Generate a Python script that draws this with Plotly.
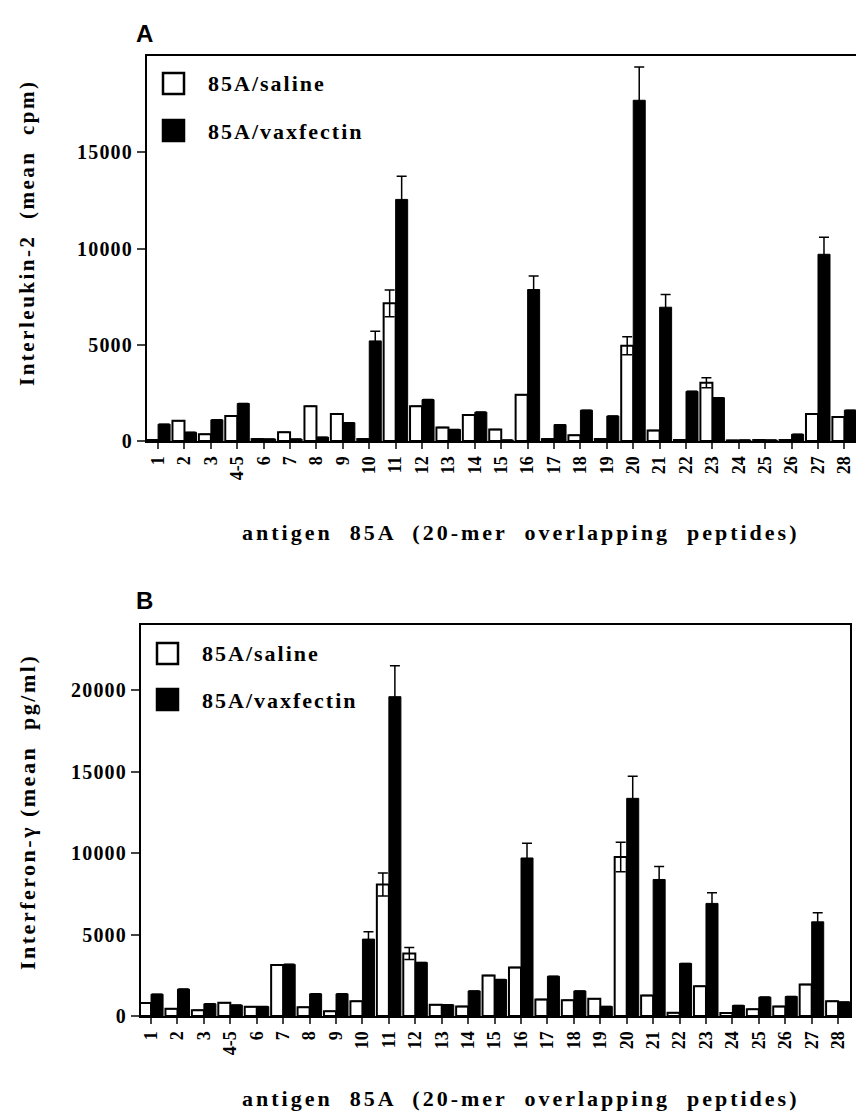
import plotly.graph_objects as go

# ---------------- data ----------------
peptides = ["1", "2", "3", "4-5", "6", "7", "8", "9", "10", "11", "12", "13", "14",
            "15", "16", "17", "18", "19", "20", "21", "22", "23", "24", "25", "26",
            "27", "28"]

il2_saline = [50, 1050, 350, 1300, 100, 450, 1800, 1400, 100, 7150, 1800, 700, 1350,
              600, 2400, 100, 300, 100, 4950, 550, 50, 3030, 30, 50, 50, 1400, 1250]
il2_saline_err = [0, 0, 0, 0, 0, 0, 0, 0, 0, 700, 0, 0, 0,
                  0, 0, 0, 0, 0, 470, 0, 0, 260, 0, 0, 0, 0, 0]
il2_vax = [875, 450, 1100, 1950, 100, 100, 200, 950, 5200, 12550, 2150, 600, 1500,
           50, 7870, 850, 1600, 1300, 17700, 6950, 2580, 2250, 50, 50, 350, 9700, 1600]
il2_vax_err = [0, 0, 0, 0, 0, 0, 0, 0, 500, 1200, 0, 0, 0,
               0, 700, 0, 0, 0, 1730, 660, 0, 0, 0, 0, 0, 890, 0]

ifn_saline = [800, 450, 350, 810, 570, 3130, 530, 290, 900, 8070, 3840, 690, 580,
              2480, 2970, 1020, 960, 1060, 9760, 1260, 200, 1830, 180, 410, 590, 1930, 900]
ifn_saline_err = [0, 0, 0, 0, 0, 0, 0, 0, 0, 700, 370, 0, 0,
                  0, 0, 0, 0, 0, 900, 0, 0, 0, 0, 0, 0, 0, 0]
ifn_vax = [1340, 1650, 750, 670, 580, 3170, 1360, 1360, 4720, 19600, 3290, 690, 1540,
           2240, 9700, 2440, 1540, 590, 13360, 8380, 3230, 6910, 650, 1160, 1200, 5780, 860]
ifn_vax_err = [0, 0, 0, 0, 0, 0, 0, 0, 450, 1900, 0, 0, 0,
               0, 900, 0, 0, 0, 1360, 800, 0, 650, 0, 0, 0, 560, 0]

y_ticks_a = [0, 5000, 10000, 15000]
y_ticks_b = [0, 5000, 10000, 15000, 20000]

# ---------------- figure ----------------
W, H = 856, 1112
SERIF = "Liberation Serif"
SANS = "Liberation Sans"
xs = list(range(len(peptides)))


def px(x):
    return x / W


def py(y):
    return 1 - y / H


def spaced(t, ls):
    return f"<span style='letter-spacing:{ls}px'>{t}</span>"


fig = go.Figure()

err_style = dict(type="data", symmetric=True, color="black", thickness=1.5, width=5)

for sal, sal_e, vax, vax_e, xa, ya in [
    (il2_saline, il2_saline_err, il2_vax, il2_vax_err, "x", "y"),
    (ifn_saline, ifn_saline_err, ifn_vax, ifn_vax_err, "x2", "y2"),
]:
    fig.add_trace(go.Bar(x=xs, y=sal, xaxis=xa, yaxis=ya, name="85A/saline",
                         marker=dict(color="white", line=dict(color="black", width=2)),
                         error_y=dict(array=sal_e, **err_style), showlegend=False))
    fig.add_trace(go.Bar(x=xs, y=vax, xaxis=xa, yaxis=ya, name="85A/vaxfectin",
                         marker=dict(color="black", line=dict(color="black", width=1)),
                         error_y=dict(array=vax_e, **err_style), showlegend=False))

tickfont = dict(family=SERIF, size=20, color="black", weight="bold")
xtickfont = dict(family=SERIF, size=18, color="black", weight="bold")

common_x = dict(tickmode="array", tickvals=xs, ticktext=peptides, tickangle=-90,
                tickfont=xtickfont, ticks="outside", ticklen=6, tickwidth=1.5,
                showline=True, linewidth=2, linecolor="black", mirror=True,
                showgrid=False, zeroline=False, automargin=False)
common_y = dict(tickmode="array", tickfont=tickfont, ticks="outside", ticklen=8,
                tickwidth=2, showline=True, linewidth=2, linecolor="black", mirror=True,
                showgrid=False, zeroline=False, automargin=False)

fig.update_layout(
    width=W, height=H,
    margin=dict(l=0, r=0, t=0, b=0),
    paper_bgcolor="white", plot_bgcolor="white",
    barmode="group", bargap=0.09, bargroupgap=0,
    xaxis=dict(domain=[px(147), 1.0], range=[-0.42, 26.44], anchor="y", **common_x),
    yaxis=dict(domain=[py(441), py(56)], range=[0, 20000], anchor="x",
               tickvals=y_ticks_a, ticktext=[spaced(str(v), 1.2) for v in y_ticks_a],
               **common_y),
    xaxis2=dict(domain=[px(141), px(850)], range=[-0.38, 26.45], anchor="y2", **common_x),
    yaxis2=dict(domain=[py(1016), py(625)], range=[0, 24000], anchor="x2",
                tickvals=y_ticks_b, ticktext=[spaced(str(v), 1.2) for v in y_ticks_b],
                **common_y),
)

xtitle = "antigen  85A  (20-mer  overlapping  peptides)"
bold_serif = lambda s: dict(family=SERIF, size=s, color="black", weight="bold")

annotations = [
    dict(text="<b>A</b>", x=px(134), y=py(33), xanchor="left", yanchor="middle",
         font=dict(family=SANS, size=24, color="black")),
    dict(text="<b>B</b>", x=px(134), y=py(600), xanchor="left", yanchor="middle",
         font=dict(family=SANS, size=24, color="black")),
    dict(text=spaced("Interleukin-2  (mean  cpm)", 2.5), x=px(27), y=py(233),
         textangle=-90, xanchor="center", yanchor="middle", font=bold_serif(21)),
    dict(text=spaced("Interferon-γ (mean  pg/ml)", 2.5), x=px(27), y=py(812),
         textangle=-90, xanchor="center", yanchor="middle", font=bold_serif(22)),
    dict(text=spaced(xtitle, 3), x=px(520), y=py(532),
         xanchor="center", yanchor="middle", font=bold_serif(22)),
    dict(text=spaced(xtitle, 3), x=px(520), y=py(1098),
         xanchor="center", yanchor="middle", font=bold_serif(22)),
]

shapes = []
legend_items = [
    # (square x, square y, text x, text y, label, fill)
    (163, 73, 206, 84, "85A/saline", "white"),
    (163, 120, 206, 131, "85A/vaxfectin", "black"),
    (157, 643, 200, 653, "85A/saline", "white"),
    (157, 689, 200, 700, "85A/vaxfectin", "black"),
]
for (x0, y0, tx, ty, name, fill) in legend_items:
    shapes.append(dict(type="rect", xref="paper", yref="paper",
                       x0=px(x0), x1=px(x0 + 21), y0=py(y0 + 21), y1=py(y0),
                       fillcolor=fill, line=dict(color="black", width=2.5)))
    annotations.append(dict(text=spaced(name, 2), x=px(tx), y=py(ty),
                            xanchor="left", yanchor="middle", font=bold_serif(22)))

for a in annotations:
    a.setdefault("xref", "paper")
    a.setdefault("yref", "paper")
    a.setdefault("showarrow", False)

fig.update_layout(annotations=annotations, shapes=shapes)

fig.write_html(
    "out.html",
    config={"displayModeBar": False},
    post_script="document.body.style.margin='0';"
                "document.documentElement.style.overflow='hidden';"
                "document.body.style.overflow='hidden';",
)
